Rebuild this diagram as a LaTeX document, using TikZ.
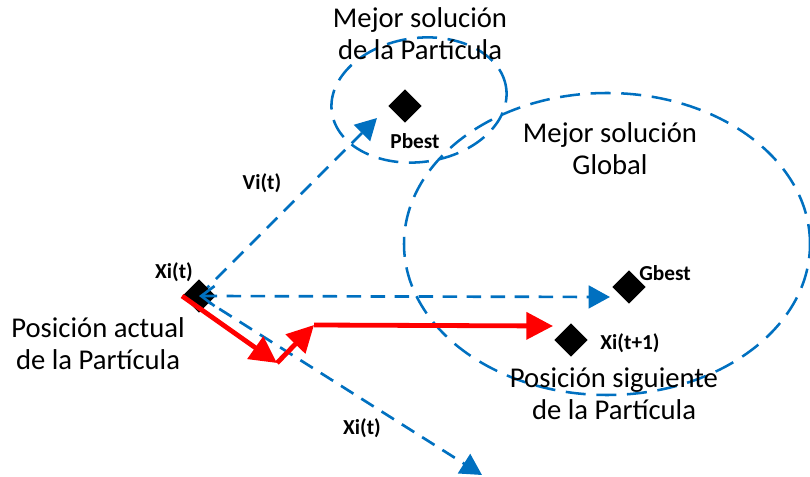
\documentclass[tikz,border=0pt]{standalone}
\usepackage{fontspec}
\setmainfont{Carlito}
\usetikzlibrary{arrows.meta,shapes.geometric}
\definecolor{dashblue}{RGB}{0,112,192}
\definecolor{pathred}{RGB}{255,0,0}

\begin{document}
\begin{tikzpicture}[x=0.75pt,y=-0.75pt,
  bigtext/.style={font=\fontsize{21.5}{24}\selectfont, align=center, inner sep=0pt},
  smalltext/.style={font=\fontsize{16}{18}\selectfont\bfseries, inner sep=0pt},
  marker/.style={diamond, fill=black, minimum width=25pt, minimum height=25pt, inner sep=0pt},
  dashline/.style={draw=dashblue, line width=2pt, dash pattern=on 11pt off 7pt},
  ringline/.style={draw=dashblue, line width=1.9pt, dash pattern=on 15pt off 8pt},
  bluetip/.style={-{Triangle[length=16pt,width=17pt]}},
  redline/.style={draw=pathred, line width=3.6pt, -{Triangle[length=20pt,width=20pt]}},
]
\useasboundingbox (0,0) rectangle (810,477);

% regions around the best solutions
\draw[ringline, rotate around={8:(419,100)}] (419,100) ellipse [x radius=66pt, y radius=46.5pt];
\draw[ringline] (607,244) ellipse [x radius=152.25pt, y radius=113.25pt];

% candidate points
\node[marker] (pb) at (405,106) {};
\node[marker] (gb) at (629,287) {};
\node[marker] (xn) at (571,340) {};

% free ends of the velocity components
\coordinate (vtip) at (377,118);
\coordinate (gtip) at (610,297);
\coordinate (ltip) at (482,475);
\coordinate (r1) at (277,363);
\coordinate (r2) at (314,325);
\coordinate (rtip) at (553,326);

\draw[dashline, bluetip] (199,296) -- (vtip);
\draw[dashline, bluetip] (199,296) -- (ltip);

\node[marker] (xi) at (199,296) {};

\draw[dashline, {Straight Barb[length=10pt,width=15pt]}-{Triangle[length=16pt,width=17pt]}] (xi.center) -- (gtip);

% resulting movement of the particle
\draw[redline] (xi.west) -- (r1);
\draw[redline] (r1) -- (r2);
\draw[redline] (r2) -- (rtip);

% point labels
\node[smalltext] (lxi) at (174,272) {Xi(t)};
\node[smalltext] (lvi) at (262,183) {Vi(t)};
\node[smalltext] (lxo) at (362,428) {Xi(t)};
\node[smalltext] (lpb) at (415,141) {Pbest};
\node[smalltext] (lgb) at (665,273) {Gbest};
\node[smalltext] (lxn) at (630,343) {Xi(t+1)};

% region and position captions
\node[bigtext] (tp) at (420,34) {Mejor solución\\de la Partícula};
\node[bigtext] (tg) at (610,149) {Mejor solución\\Global};
\node[bigtext] (ta) at (98,344) {Posición actual\\de la Partícula};
\node[bigtext] (ts) at (614,394) {Posición siguiente\\de la Partícula};
\end{tikzpicture}
\end{document}
